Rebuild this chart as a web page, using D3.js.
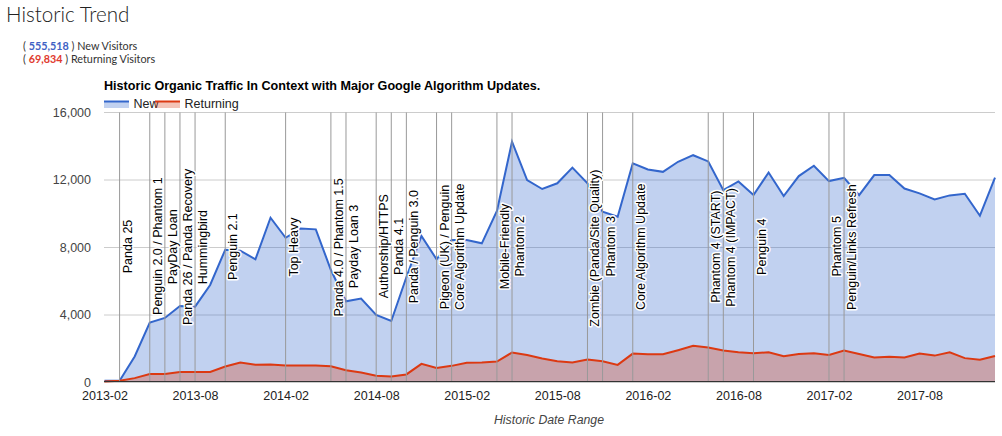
<!DOCTYPE html>
<html>
<head>
<meta charset="utf-8">
<script src="https://cdnjs.cloudflare.com/ajax/libs/d3/7.8.5/d3.min.js"></script>
<style>
  html, body { margin: 0; padding: 0; background: #fff; }
  svg { display: block; }
  text { font-family: "Liberation Sans", Arial, sans-serif; }
  .axis text { font-size: 12.5px; fill: #222; }
  .axis-y text { fill: #444; }
  .anno { font-size: 12.5px; fill: #000; paint-order: stroke; stroke: #fff; stroke-width: 3px; stroke-linejoin: round; }
</style>
</head>
<body>
<svg id="chart" width="1002" height="436"></svg>
<script>
// Data
const months = [
  '2013-02','2013-03','2013-04','2013-05','2013-06','2013-07','2013-08','2013-09','2013-10','2013-11','2013-12','2014-01',
  '2014-02','2014-03','2014-04','2014-05','2014-06','2014-07','2014-08','2014-09','2014-10','2014-11','2014-12','2015-01',
  '2015-02','2015-03','2015-04','2015-05','2015-06','2015-07','2015-08','2015-09','2015-10','2015-11','2015-12','2016-01',
  '2016-02','2016-03','2016-04','2016-05','2016-06','2016-07','2016-08','2016-09','2016-10','2016-11','2016-12','2017-01',
  '2017-02','2017-03','2017-04','2017-05','2017-06','2017-07','2017-08','2017-09','2017-10','2017-11','2017-12','2018-01'
]
const newVisitors = [
  50,50,1490,3500,3780,4490,4450,5740,7840,7780,7270,9740,
  8550,9100,9050,6630,4770,4930,3960,3600,6200,8660,7270,8420,
  8420,8220,10140,14260,11980,11450,11790,12720,11790,10100,9800,12970,
  12610,12470,13070,13460,13090,11380,11900,11090,12430,11030,12220,12830,
  11920,12120,11090,12280,12280,11480,11190,10830,11070,11170,9860,12120
]
const returningVisitors = [
  0,50,200,450,450,570,570,570,890,1130,990,1010,
  950,950,950,910,670,530,340,300,420,1050,810,930,
  1110,1130,1190,1720,1580,1370,1210,1130,1310,1210,990,1660,
  1620,1620,1860,2120,2020,1840,1740,1680,1740,1500,1640,1680,
  1580,1840,1640,1430,1470,1430,1660,1540,1740,1390,1290,1520
]
const xTickLabels = ['2013-02','2013-08','2014-02','2014-08','2015-02','2015-08','2016-02','2016-08','2017-02','2017-08']
const yTickValues = [0, 4000, 8000, 12000, 16000]

const updateNames = [
  'Panda 25','Penguin 2.0 / Phantom 1','PayDay Loan','Panda 26 / Panda Recovery','Hummingbird','Penguin 2.1','Top Heavy',
  'Panda 4.0 / Phantom 1.5','Payday Loan 3','Authorship/HTTPS','Panda 4.1','Panda / Penguin 3.0','Pigeon (UK) / Penguin',
  'Core Algorithm Update','Mobile-Friendly','Phantom 2','Zombie (Panda/Site Quality)','Phantom 3','Core Algorithm Update',
  'Phantom 4 (START)','Phantom 4 (IMPACT)','Penguin 4','Phantom 5','Penguin/Links Refresh'
]
const updateMonths = [
  '2013-03','2013-05','2013-06','2013-07','2013-08','2013-10','2014-02',
  '2014-05','2014-06','2014-08','2014-09','2014-10','2014-12',
  '2015-01','2015-04','2015-05','2015-10','2015-11','2016-01',
  '2016-06','2016-07','2016-09','2017-02','2017-03'
]
// value on the y axis where each label starts
const updateLabelStart = [
  6440,3960,5780,3360,5780,6040,6240,
  3860,5550,4950,6340,4650,4300,
  4250,5490,6240,3260,6240,4250,
  4690,4450,6340,6240,4250
]

const colorNew = '#3366cc'
const colorReturning = '#dc3912'

const svg = d3.select('#chart')

const x = d3.scalePoint().domain(months).range([104.5, 995])
const y = d3.scaleLinear().domain([0, 16000]).range([381.5, 112.5])
// gridlines sit a touch lower than the data baseline in the original
const yGrid = y.copy().range([382.5, 112.5])

// Page header
svg.append('text').attr('x', 6).attr('y', 22)
  .style('font-family', 'Lato').style('font-weight', 300).style('font-size', '20.6px').attr('fill', '#222')
  .text('Historic Trend')

const totals = [['555,518', 'New Visitors', '#3f62c4'], ['69,834', 'Returning Visitors', '#e03a2e']]
totals.forEach((t, i) => {
  const line = svg.append('text').attr('x', 23).attr('y', 50 + i * 13)
    .style('font-family', 'Lato').style('font-size', '10.8px').attr('fill', '#333')
  line.append('tspan').text('( ')
  line.append('tspan').attr('fill', t[2]).style('font-weight', 700).text(t[0])
  line.append('tspan').text(' ) ' + t[1])
})

svg.append('text').attr('x', 104).attr('y', 90)
  .style('font-size', '12.6px').style('font-weight', 700)
  .text('Historic Organic Traffic In Context with Major Google Algorithm Updates.')

// Grid
svg.append('g').attr('class', 'axis axis-y')
  .attr('transform', 'translate(104,0)')
  .call(d3.axisLeft(yGrid).offset(0).tickValues(yTickValues).tickFormat(d3.format(',')).tickSize(-891).tickPadding(13))
  .call(g => g.select('.domain').remove())
  .call(g => g.selectAll('line').attr('stroke', '#ccc'))

// Areas and lines
const area = d3.area().x((d, i) => x(months[i])).y0(y(0)).y1(d => y(d))
const line = d3.line().x((d, i) => x(months[i])).y(d => y(d))

svg.append('path').datum(newVisitors).attr('d', area).attr('fill', colorNew).attr('fill-opacity', 0.3)
svg.append('path').datum(returningVisitors).attr('d', area).attr('fill', colorReturning).attr('fill-opacity', 0.3)
svg.append('path').datum(newVisitors).attr('d', line).attr('fill', 'none').attr('stroke', colorNew).attr('stroke-width', 2)
svg.append('path').datum(returningVisitors).attr('d', line).attr('fill', 'none').attr('stroke', colorReturning).attr('stroke-width', 2)

// Algorithm update lines
svg.append('g').selectAll('line').data(updateMonths).join('line')
  .attr('x1', d => x(d)).attr('x2', d => x(d))
  .attr('y1', y(16000)).attr('y2', y(0))
  .attr('stroke', '#999').attr('stroke-width', 1)

svg.append('line').attr('x1', 104).attr('x2', 995).attr('y1', y(0)).attr('y2', y(0)).attr('stroke', '#333')

// X axis
svg.append('g').attr('class', 'axis')
  .attr('transform', `translate(0,${y(0)})`)
  .call(d3.axisBottom(x).tickValues(xTickLabels).tickSize(0).tickPadding(10))
  .call(g => g.select('.domain').remove())

// Update labels
svg.append('g').selectAll('text').data(updateNames).join('text')
  .attr('class', 'anno')
  .attr('transform', (d, i) => `translate(${x(updateMonths[i]) + 12},${y(updateLabelStart[i])}) rotate(-90)`)
  .text(d => d)

svg.append('text').attr('x', 549).attr('y', 424).attr('text-anchor', 'middle')
  .style('font-size', '12.3px').style('font-style', 'italic').attr('fill', '#444')
  .text('Historic Date Range')

// Legend
const legendItems = [['New', colorNew, 104], ['Returning', colorReturning, 155]]
const legend = svg.append('g')
legendItems.forEach(item => {
  legend.append('text').attr('x', item[2] + 29.5).attr('y', 107.5)
    .style('font-size', '12.5px').attr('fill', '#222').text(item[0])
  legend.append('rect').attr('x', item[2]).attr('y', 101).attr('width', 25).attr('height', 7)
    .attr('fill', item[1]).attr('fill-opacity', 0.3)
  legend.append('line').attr('x1', item[2]).attr('x2', item[2] + 25).attr('y1', 101.5).attr('y2', 101.5)
    .attr('stroke', item[1]).attr('stroke-width', 2)
})
</script>
</body>
</html>
